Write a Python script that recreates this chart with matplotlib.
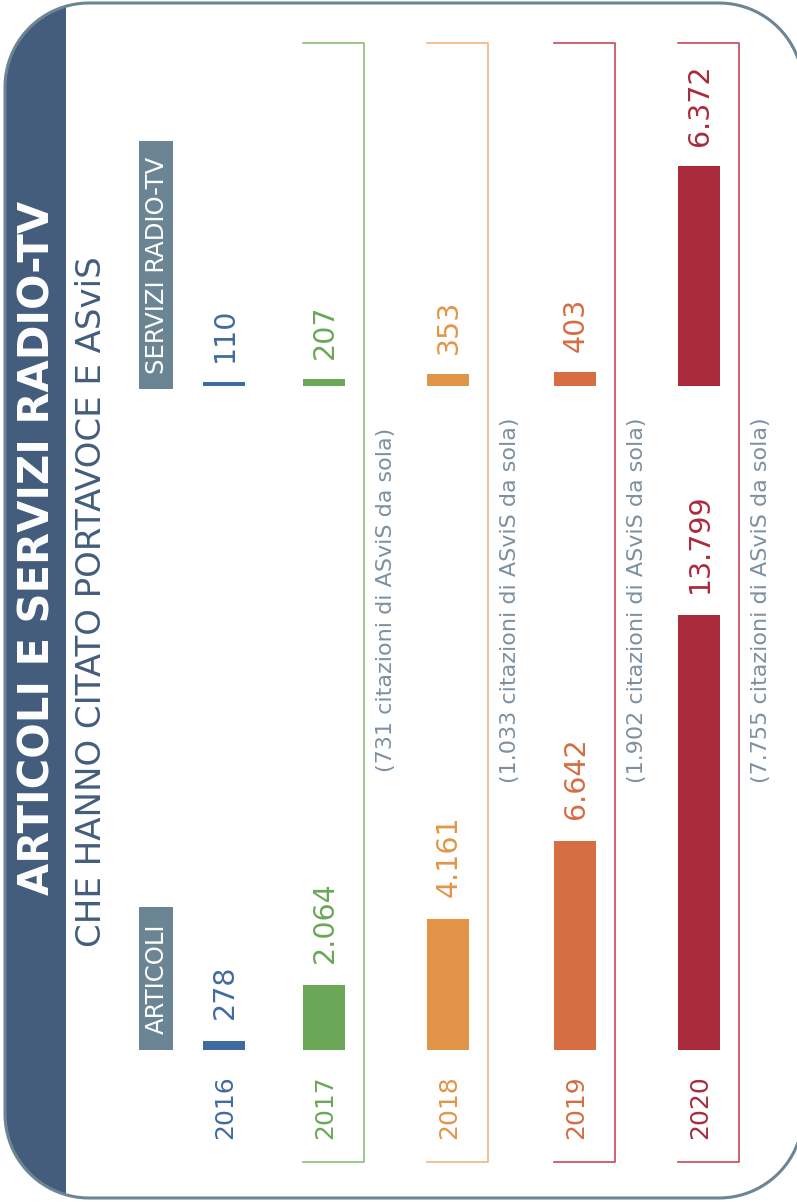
import matplotlib
matplotlib.use("Agg")
import matplotlib.pyplot as plt
import numpy as np
from matplotlib.patches import PathPatch, Rectangle
from matplotlib.path import Path

plt.rcParams['font.family'] = ['DejaVu Sans']

# ---------------------------------------------------------------
# dati
# ---------------------------------------------------------------
anni = [2016, 2017, 2018, 2019, 2020]
articoli = [278, 2064, 4161, 6642, 13799]
servizi = [110, 207, 353, 403, 6372]
citazioni_sola = [None, 731, 1033, 1902, 7755]

titolo = "ARTICOLI E SERVIZI RADIO-TV"
sottotitolo = "CHE HANNO CITATO PORTAVOCE E ASviS"

# ---------------------------------------------------------------
# stile / layout (pixel)
# ---------------------------------------------------------------
W, H = 797, 1203
colori = ['#3e6ba1', '#6aa757', '#e29548', '#d66d43', '#a92b3c']
colori_parentesi = [None, '#8dbe7b', '#f0b67e', '#c8475b', '#c8475b']
BLU = '#445d7d'
GRIGIO = '#6c8595'
GRIGIO_NOTE = '#7d90a0'

col_x = [224, 324, 448, 575, 699]
LARG_BARRA = 42
BASE_ART, CIMA_ART = 1050, 615     # 0 e max articoli
BASE_SRV, CIMA_SRV = 386, 166      # 0 e max servizi


def fmt(v):
    return f"{v:,}".replace(",", ".")


def rettangolo_arrotondato(x0, y0, x1, y1, r, n=24):
    """Path chiuso di un rettangolo con angoli arrotondati (y verso il basso)."""
    angoli = [((x1 - r, y0 + r), -90, 0), ((x1 - r, y1 - r), 0, 90),
              ((x0 + r, y1 - r), 90, 180), ((x0 + r, y0 + r), 180, 270)]
    pts = []
    for (cx, cy), a0, a1 in angoli:
        t = np.radians(np.linspace(a0, a1, n))
        pts += list(zip(cx + r * np.cos(t), cy + r * np.sin(t)))
    pts.append(pts[0])
    codes = [Path.MOVETO] + [Path.LINETO] * (len(pts) - 2) + [Path.CLOSEPOLY]
    return Path(pts, codes)


fig = plt.figure(figsize=(W / 100, H / 100), dpi=100)

# sfondo e decorazioni in coordinate pixel
bg = fig.add_axes([0, 0, 1, 1])
bg.set_xlim(0, W)
bg.set_ylim(H, 0)
bg.axis('off')

percorso = rettangolo_arrotondato(5, 3, 803, 1198, 84)
cornice = PathPatch(percorso, facecolor='white', edgecolor='none', zorder=0)
bg.add_patch(cornice)
banda = Rectangle((0, 0), 66, H, facecolor=BLU, edgecolor='none', zorder=1)
bg.add_patch(banda)
banda.set_clip_path(cornice)
bg.add_patch(PathPatch(percorso, facecolor='none', edgecolor=GRIGIO, lw=2.2, zorder=3))

bg.text(38, 548, titolo, rotation=90, ha='center', va='center', color='white',
        fontsize=30, fontweight='bold', zorder=4)
bg.text(92, 602, sottotitolo, rotation=90, ha='center', va='center', color=BLU,
        fontsize=24.5, zorder=4)

# etichette ARTICOLI / SERVIZI
for y0, y1, testo in [(141, 389, "SERVIZI RADIO-TV"), (907, 1050, "ARTICOLI")]:
    bg.add_patch(Rectangle((139, y0), 34, y1 - y0, facecolor=GRIGIO, edgecolor='none', zorder=2))
    bg.text(157, (y0 + y1) / 2, testo, rotation=90, ha='center', va='center',
            color='white', fontsize=17.5, zorder=4)

# anni, parentesi e note
for i, anno in enumerate(anni):
    x = col_x[i]
    bg.text(x + 1, 1107, str(anno), rotation=90, ha='center', va='center',
            color=colori[i], fontsize=18, zorder=4)
    if citazioni_sola[i] is None:
        continue
    xl, xr = x - 21, x + 40
    bg.plot([xl, xr, xr, xl], [43, 43, 1162, 1162], color=colori_parentesi[i], lw=1.2, zorder=2)
    bg.text(xr + 22, 600, f"({fmt(citazioni_sola[i])} citazioni di ASviS da sola)",
            rotation=90, ha='center', va='center', color=GRIGIO_NOTE, fontsize=16, zorder=4)

# assi per le barre
def asse_barre(base_px, cima_px, vmax, top_px):
    scala = (base_px - cima_px) / vmax
    ax = fig.add_axes([0, 1 - base_px / H, 1, (base_px - top_px) / H])
    ax.set_xlim(0, W)
    ax.set_ylim(0, (base_px - top_px) / scala)
    ax.axis('off')
    return ax

ax_art = asse_barre(BASE_ART, CIMA_ART, max(articoli), 20)
ax_srv = asse_barre(BASE_SRV, CIMA_SRV, max(servizi), 0)

for ax, valori, off in [(ax_art, articoli, 22), (ax_srv, servizi, 20)]:
    ax.bar(col_x, valori, width=LARG_BARRA, color=colori, zorder=2)
    for x, v, c in zip(col_x, valori, colori):
        ax.annotate(fmt(v), (x, v), xytext=(1, off), textcoords='offset pixels',
                    rotation=90, ha='center', va='bottom', color=c, fontsize=20.5)

fig.savefig("out.png", dpi=100)
